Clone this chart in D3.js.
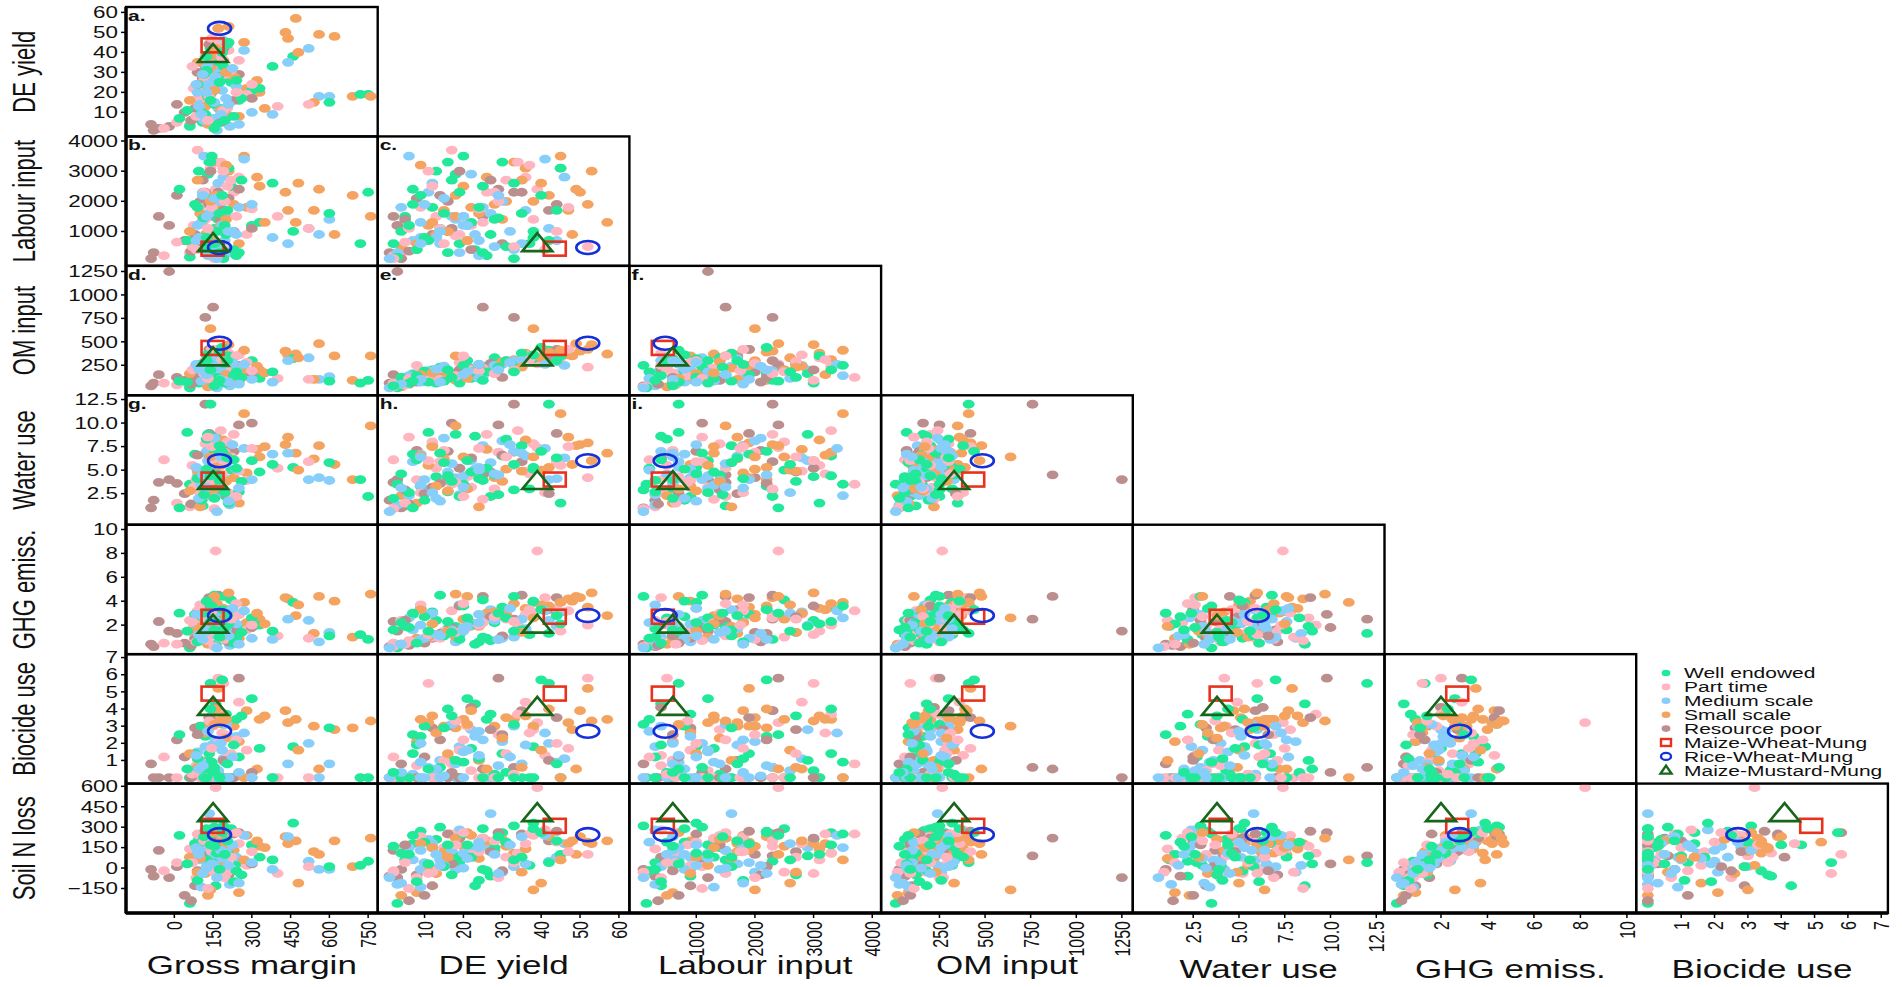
<!DOCTYPE html>
<html><head><meta charset="utf-8">
<script src="https://cdn.jsdelivr.net/npm/d3@7/dist/d3.min.js"></script>
<style>body{margin:0;background:#fff} text{font-family:"Liberation Sans",Arial,sans-serif;fill:#111}</style>
</head><body><svg id="chart" width="1902" height="987"></svg>
<script>
// ---------- data ----------
const variables = ["Gross margin","DE yield","Labour input","OM input","Water use","GHG emiss.","Biocide use","Soil N loss"];
const domains = [[-187,787],[-2.05,62.7],[-140,4151],[-70,1310],[-0.8,12.95],[-0.43,10.4],[-0.35,7.2],[-330,620]];
const tickValues = [[0,150,300,450,600,750],[10,20,30,40,50,60],[1000,2000,3000,4000],[250,500,750,1000,1250],[2.5,5,7.5,10,12.5],[2,4,6,8,10],[1,2,3,4,5,6,7],[-150,0,150,300,450,600]];
const tickDecimals = [0,0,0,0,1,0,0,0];
const panelLetters = ["a.","b.","c.","d.","e.","f.","g.","h.","i."];

const farmTypes = ["Well endowed","Part time","Medium scale","Small scale","Resource poor"];
const typeColors = ["#22E89A","#FFB6C1","#87CEFA","#F4A460","#BC8F8F"];

// rows: [gross margin, DE yield, labour, OM, water, GHG, biocide, soil N loss]
const wellEndowed = [
[150,37,600,320,3.0,1.2,0.0,20],[135,30,3300,280,6.5,3.5,1.4,260],[200,27,900,250,2.2,0.7,3.7,-60],
[180,12,1800,200,7.6,3.1,0.0,150],[95,13,3000,60,4.3,2.4,0.4,210],[110,5,1500,120,1.2,1.9,0.0,60],
[160,23,400,180,8.6,0.4,4.3,-130],[220,25,2500,200,5.0,4.1,0.0,290],[250,16,300,110,2.7,1.7,1.2,40],
[300,21,1200,300,6.0,2.6,4.6,170],[460,38,1000,320,5.3,3.9,1.8,330],[750,19,2300,90,2.2,0.8,0.0,50],
[720,19,600,60,4.0,1.2,0.0,20],[120,9,2200,160,3.3,3.4,2.4,270],[140,42,700,410,12.0,1.3,5.5,40],
[170,28,1400,330,4.5,2.2,0.2,150],[60,3,150,10,3.5,0.1,0.0,-260],[130,18,2900,160,8.8,1.9,1.0,90],
[190,33,100,250,2.9,4.4,3.1,310],[80,7,1900,150,6.7,2.9,1.4,180],[210,45,3100,350,1.5,2.1,0.0,100],
[155,14,1100,230,6.8,4.5,0.6,300],[240,26,200,180,5.2,0.9,3.4,-20],[175,35,1600,380,7.6,1.6,0.0,80],
[105,10,800,190,1.8,2.7,3.0,190],[330,22,1300,110,4.8,2.0,1.7,80],[145,20,3500,250,3.5,3.6,0.9,250],
[600,15,1600,80,5.8,1.1,2.9,10],[125,31,500,300,8.3,2.6,0.3,190],[260,17,2700,120,3.8,1.4,3.6,-50],
[165,4,1000,120,4.6,2.2,0.0,110],[90,24,1800,260,4.1,0.6,1.1,-90],[185,40,2200,440,7.0,3.3,5.7,260],
[50,11,700,70,9.0,1.5,0.5,30],[115,29,1450,230,2.4,3.0,0.0,230],[230,8,400,140,6.1,0.5,1.9,-100],
[380,33,2600,180,5.6,1.5,0.0,60],[195,6,1200,60,2.6,1.8,0.0,100],[140,16,3300,200,4.4,2.3,4.0,170],
[175,25,300,90,3.9,1.0,0.0,-10],[205,44,1700,300,6.3,2.8,0.8,200],[20,7,2400,80,1.0,3.0,2.5,240],
[125,38,800,360,5.1,4.0,0.0,290],[155,2,600,30,2.0,1.6,0.3,160]
];
const partTime = [
[160,39,2400,265,7.4,8.2,3.2,590],[170,52,500,230,4.2,2.0,5.8,100],[140,45,3100,330,5.5,1.5,0.0,60],
[120,38,1400,300,7.8,3.0,2.8,240],[210,41,400,380,2.6,4.3,1.3,280],[230,26,2300,200,8.8,2.6,0.0,160],
[90,17,3700,120,3.5,3.2,0.8,250],[60,4,300,80,1.1,2.4,0.0,140],[150,21,700,150,4.3,1.8,3.0,90],
[400,13,1500,110,5.2,1.1,0.0,-40],[280,19,900,280,3.9,1.6,1.6,20],[-40,2,200,60,6.1,0.5,1.2,-20],
[180,34,3300,240,9.2,2.0,3.7,110],[100,9,1800,190,2.6,3.7,0.0,230],[195,29,2000,270,6.9,0.8,2.5,-70],
[130,15,600,170,7.1,1.5,1.0,150],[250,36,2800,360,4.9,2.9,4.4,180],[75,22,1200,210,3.2,1.9,0.4,100],
[165,44,1000,300,5.9,3.4,2.0,190],[110,25,1300,220,1.9,2.2,0.0,220],[205,12,2500,180,8.0,1.0,0.0,-30],
[520,14,1100,100,5.9,0.9,0.0,10],[145,47,1800,420,7.5,3.2,1.7,120],[85,8,400,250,4.0,0.6,0.7,-70],
[220,31,2700,290,6.4,2.5,1.4,80],[10,5,650,40,1.5,0.4,0.0,40],[185,37,3200,310,4.6,3.3,2.6,250],
[135,18,850,140,3.7,1.4,3.3,170],[300,24,1750,190,7.3,2.0,0.0,120],[155,2,100,20,0.9,0.2,0.0,-30],
[115,28,2300,160,3.0,2.7,0.0,200],[190,11,3000,90,6.0,1.2,5.5,-40],[70,33,500,200,5.5,2.3,0.2,40],
[240,20,1500,350,2.2,3.8,2.2,260],[130,6,1100,110,8.5,0.7,0.0,-150]
];
const mediumScale = [
[195,44,700,290,4.1,1.9,0.9,80],[190,46,2800,250,6.3,3.1,1.1,180],[520,42,1100,330,4.0,2.4,2.0,50],
[560,18,900,100,4.2,0.6,0.0,-10],[130,22,2900,200,6.0,2.0,2.8,150],[120,19,300,170,2.4,3.7,1.8,280],
[140,16,1000,150,4.8,1.3,0.0,90],[160,25,1800,130,7.6,2.3,2.2,160],[110,11,2300,190,2.9,2.9,0.6,210],
[150,7,700,160,5.9,1.6,0.2,60],[175,30,2000,260,8.1,0.9,2.1,-30],[100,14,600,120,3.6,1.1,1.0,60],
[215,3,300,30,1.3,0.3,0.0,-120],[135,27,1600,240,5.8,3.3,0.0,400],[380,9,800,70,6.7,0.8,0.0,-10],
[600,18,1400,130,3.9,1.4,0.8,-10],[125,33,400,300,7.0,1.0,3.0,10],[90,20,1200,180,4.4,1.8,1.5,110],
[170,12,2600,110,2.6,3.0,0.4,180],[240,23,900,200,5.1,2.1,2.4,80],[145,36,1700,320,6.5,1.7,1.9,30],
[115,6,3500,140,2.3,2.6,0.0,150],[200,17,1500,140,5.7,1.6,3.1,130],[160,28,500,250,4.6,2.4,0.0,100],
[105,9,1300,80,3.4,0.8,0.9,-140],[270,41,3400,260,7.3,3.2,2.6,240],[155,15,2100,240,8.4,1.3,0.1,20],
[185,21,1200,180,3.0,1.9,1.6,70],[300,10,1900,100,4.0,0.9,0.0,40],[130,24,200,110,5.0,2.2,2.7,190],
[440,35,600,300,6.8,2.5,0.8,230],[165,1,100,10,0.6,0.1,0.0,-70],[95,13,800,210,2.0,1.2,0.5,100],
[225,32,1000,280,7.7,3.4,1.2,170],[125,20,1500,150,3.2,1.5,0.0,0],[180,9,600,100,6.4,2.0,2.0,130],
[110,29,2200,200,4.5,0.8,0.7,-40],[210,14,1000,70,1.7,1.1,0.0,20],[85,24,700,260,5.3,2.9,1.3,150],
[250,4,1800,50,3.1,0.4,0.3,-110]
];
const smallScale = [
[470,57,1300,370,6.8,2.8,3.4,200],[430,50,2300,400,7.7,4.3,3.9,230],[440,47,1700,360,8.5,4.2,3.2,180],
[690,18,2200,90,4.0,1.0,2.9,10],[620,48,900,350,5.6,4.0,2.8,200],[165,33,3300,310,6.9,3.8,3.4,110],
[150,31,2000,300,5.1,2.9,3.5,160],[280,22,1800,190,4.7,2.2,3.9,240],[330,20,2500,200,6.4,2.5,3.4,160],
[170,52,1900,420,7.9,3.5,5.2,190],[130,4,500,20,2.3,0.4,0.0,-200],[250,8,600,80,1.5,0.9,2.1,-180],
[480,40,2600,330,5.0,3.7,1.6,-110],[230,28,1900,250,4.2,3.1,3.0,130],[190,36,3100,380,8.2,3.4,3.6,140],
[540,15,1700,100,6.2,1.3,3.0,120],[320,26,2800,240,7.2,3.0,0.5,200],[120,13,900,130,3.3,1.2,2.6,-40],
[210,53,3000,470,6.0,4.7,3.3,180],[160,42,2200,390,5.3,3.6,4.0,230],[560,49,2400,480,7.6,4.4,0.5,100],
[100,24,1600,220,1.1,1.9,1.0,70],[270,45,3500,410,11.0,3.9,0.0,60],[180,11,1200,100,5.5,1.0,3.2,20],
[760,18,1500,350,9.7,4.6,3.3,220],[140,38,2000,640,6.4,2.6,3.0,-160],[200,30,1400,290,3.8,2.8,2.3,210],
[60,16,1000,160,2.8,1.5,1.4,80],[200,9,3200,150,6.6,3.3,3.4,180],[155,21,700,110,3.0,4.4,3.1,260],
[90,35,2700,230,4.9,1.4,0.6,-30],[350,12,1300,170,7.5,2.1,3.6,150]
];
const resourcePoor = [
[-20,3,1200,1250,4.0,1.5,0.0,-70],[150,25,1500,870,4.5,4.4,0.5,220],[120,33,2300,760,12.0,2.5,0.6,90],
[-60,2,1500,150,3.7,2.3,0.0,130],[-80,1,300,60,1.8,0.2,0.0,-60],[100,16,2000,180,4.2,1.4,3.0,100],
[160,22,400,220,6.3,2.0,4.1,80],[250,29,2400,250,9.8,2.9,5.8,260],[170,35,2300,300,5.9,4.5,3.9,250],
[-90,4,100,30,1.0,0.4,0.8,-10],[80,12,900,100,3.2,0.9,2.9,-130],[190,42,1700,340,2.5,3.3,1.0,200],
[210,8,2100,70,7.1,0.6,0.0,-50],[230,16,1000,140,7.0,1.6,0.0,250],[135,44,1900,420,8.9,4.3,3.5,270],
[40,10,700,90,2.5,0.5,1.2,-200],[10,14,2200,120,3.6,1.3,2.2,10],[300,17,1100,160,10.0,1.8,0.3,30],
[110,27,2700,270,4.8,2.7,2.8,120],[65,6,350,50,1.4,0.3,0.0,-240],[140,19,3000,200,5.2,3.6,0.0,220],
[90,30,600,120,6.6,1.1,2.5,-20],[180,5,1400,90,2.9,2.4,0.0,170]
];

const systems = ["Maize-Wheat-Mung","Rice-Wheat-Mung","Maize-Mustard-Mung"];
const systemShapes = ["square","circle","triangle"];
const systemColors = ["#E8321E","#1530D8","#17661A"];
const maizeWheatMung   = [148,43.5,430,435,4.0,2.7,4.9,310];
const riceWheatMung    = [175,52,470,485,6.0,2.8,2.7,245];
const maizeMustardMung = [150,39,600,330,3.8,2.0,4.1,400];

// ---------- layout ----------
const SX = 1.4; // horizontal stretch of the original figure
const L0 = 126, T0 = 7, PW = 251.7, PH = 129.43;
const svg = d3.select("#chart");

const typeArrays = [wellEndowed, partTime, mediumScale, smallScale, resourcePoor];
const farms = [];
const maxLen = d3.max(typeArrays, a => a.length);
for (let i = 0; i < maxLen; i++) {
  typeArrays.forEach((arr, t) => { if (i < arr.length) farms.push({type: t, v: arr[i]}); });
}
const sysRows = [maizeWheatMung, riceWheatMung, maizeMustardMung];

function stext(g, x, y, str, size, anchor, rotate, dy) {
  return g.append("text")
    .attr("transform", `translate(${x},${y}) scale(${SX},1)` + (rotate ? " rotate(-90)" : ""))
    .attr("text-anchor", anchor || "start")
    .attr("dy", dy || null)
    .style("font-size", size + "px")
    .text(str);
}

function drawMarker(g, shape, cx, cy, color, w, h, sw) {
  if (shape === "square") {
    g.append("rect").attr("x", cx - w/2).attr("y", cy - h/2).attr("width", w).attr("height", h)
      .attr("fill", "none").attr("stroke", color).attr("stroke-width", sw);
  } else if (shape === "circle") {
    g.append("ellipse").attr("cx", cx).attr("cy", cy).attr("rx", w/2).attr("ry", h/2)
      .attr("fill", "none").attr("stroke", color).attr("stroke-width", sw);
  } else {
    const p = d3.path();
    p.moveTo(cx, cy - h*0.58); p.lineTo(cx - w/2, cy + h*0.42); p.lineTo(cx + w/2, cy + h*0.42); p.closePath();
    g.append("path").attr("d", p.toString()).attr("fill", "none").attr("stroke", color)
      .attr("stroke-width", sw).attr("stroke-linejoin", "miter");
  }
}

const defs = svg.append("defs");
let letterIdx = 0;
for (let r = 0; r < 7; r++) {
  for (let c = 0; c <= r; c++) {
    const xi = c, yi = r + 1;
    const left = L0 + c * PW, top = T0 + r * PH;
    const x = d3.scaleLinear().domain(domains[xi]).range([left, left + PW]);
    const y = d3.scaleLinear().domain(domains[yi]).range([top + PH, top]);
    const id = `clip-${r}-${c}`;
    defs.append("clipPath").attr("id", id).append("rect")
      .attr("x", left).attr("y", top).attr("width", PW).attr("height", PH);
    const g = svg.append("g").attr("clip-path", `url(#${id})`);
    g.selectAll("ellipse.pt").data(farms).join("ellipse").attr("class", "pt")
      .attr("cx", d => x(d.v[xi])).attr("cy", d => y(d.v[yi]))
      .attr("rx", 5.9).attr("ry", 4.4)
      .attr("fill", d => typeColors[d.type]);
    sysRows.forEach((row, s) => {
      const dims = systemShapes[s] === "square" ? [22, 14] : systemShapes[s] === "circle" ? [23, 13] : [30, 18];
      drawMarker(g, systemShapes[s], x(row[xi]), y(row[yi]), systemColors[s], dims[0], dims[1], 2.6);
    });
    if (r < 4 && letterIdx < panelLetters.length) {
      stext(g, left + 2, top + 14, panelLetters[letterIdx], 15, "start").style("font-weight", "bold");
      letterIdx++;
    }
    svg.append("rect").attr("x", left).attr("y", top).attr("width", PW).attr("height", PH)
      .attr("fill", "none").attr("stroke", "#000").attr("stroke-width", 2.4);

    if (c === 0) {
      svg.append("line").attr("x1", left).attr("x2", left).attr("y1", top).attr("y2", top + PH)
        .attr("stroke", "#000").attr("stroke-width", 3.4);
      const fmt = d3.format("." + tickDecimals[yi] + "f");
      tickValues[yi].forEach(t => {
        const ty = y(t);
        svg.append("line").attr("x1", left - 5).attr("x2", left).attr("y1", ty).attr("y2", ty)
          .attr("stroke", "#000").attr("stroke-width", 1.5);
        stext(svg, left - 8, ty, fmt(t), 16, "end", false, "0.36em");
      });
      stext(svg, 35, top + PH / 2, variables[yi], 22, "middle", true);
    }
    if (r === 6) {
      svg.append("line").attr("x1", left).attr("x2", left + PW).attr("y1", top + PH).attr("y2", top + PH)
        .attr("stroke", "#000").attr("stroke-width", 3.4);
      const fmt = d3.format("." + tickDecimals[xi] + "f");
      tickValues[xi].forEach(t => {
        const tx = x(t);
        svg.append("line").attr("x1", tx).attr("x2", tx).attr("y1", top + PH).attr("y2", top + PH + 5)
          .attr("stroke", "#000").attr("stroke-width", 1.5);
        stext(svg, tx, top + PH + 8, fmt(t), 16, "end", true, "0.36em");
      });
      stext(svg, left + PW / 2, c < 4 ? 974 : 978, variables[xi], 25, "middle", false);
    }
  }
}

// ---------- legend ----------
const lg = svg.append("g");
const lx = 1666, ly0 = 673, lstep = 13.9;
farmTypes.forEach((name, i) => {
  const yy = ly0 + i * lstep;
  lg.append("ellipse").attr("cx", lx).attr("cy", yy).attr("rx", 4.4).attr("ry", 3.3).attr("fill", typeColors[i]);
  stext(lg, lx + 18, yy, name, 15, "start", false, "0.36em");
});
systems.forEach((name, s) => {
  const yy = ly0 + (5 + s) * lstep;
  const dims = systemShapes[s] === "square" ? [10, 7] : systemShapes[s] === "circle" ? [10, 7] : [11, 8];
  drawMarker(lg, systemShapes[s], lx, yy, systemColors[s], dims[0], dims[1], 2.4);
  stext(lg, lx + 18, yy, name, 15, "start", false, "0.36em");
});
</script></body></html>
